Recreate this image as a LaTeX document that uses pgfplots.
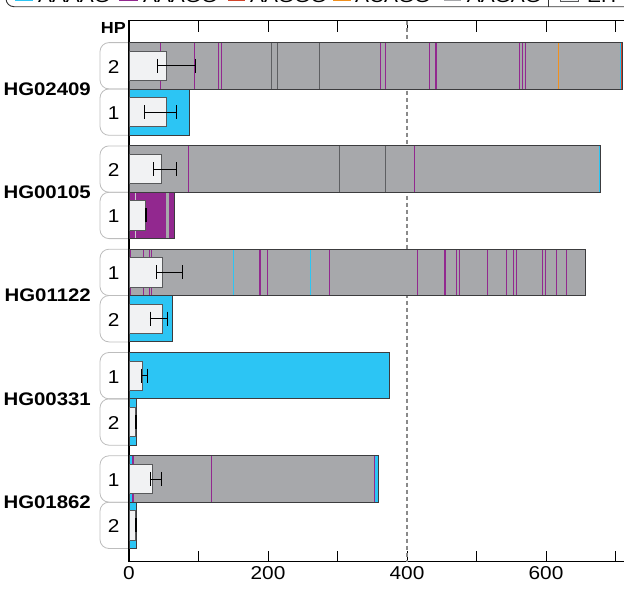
\documentclass[border=0pt]{standalone}
\usepackage{fontspec}
\setmainfont{Liberation Sans}[FakeStretch=1.12]
\usepackage{pgfplots}
\pgfplotsset{compat=1.18}
\definecolor{cCyan}{HTML}{2CC5F4}
\definecolor{cPurple}{HTML}{92288F}
\definecolor{cRed}{HTML}{D2452B}
\definecolor{cOrange}{HTML}{F0901E}
\definecolor{cGray}{HTML}{A7A8AB}
\definecolor{cDark}{HTML}{3C3C3E}
\definecolor{cSep}{HTML}{5E5F62}
\definecolor{cBox}{HTML}{F1F2F3}
\definecolor{cBoxLine}{HTML}{58595B}
\definecolor{cLbl}{HTML}{BDBDBD}
\definecolor{cLight}{HTML}{CACBCD}
\definecolor{cDash}{HTML}{8A8A8A}
% segment bar from 0 to #1 at centre #2 in colour #3
\newcommand{\seg}[3]{\addplot[xbar, bar shift=0pt, bar width=46.35, fill=#3, draw=none, forget plot] coordinates {(#1,#2)};}
% outline of a whole bar
\newcommand{\outl}[2]{\addplot[xbar, bar shift=0pt, bar width=46.35, fill=none, draw=cDark, line width=0.9pt, forget plot] coordinates {(#1,#2)};}
% stripe at x=#1 from y #2 to #3, colour #4, width #5
\newcommand{\st}[5]{\addplot[#4, line width=#5, forget plot] coordinates {(#1,#2) (#1,#3)};}
% EH box: value #1 at centre #2, interval #3..#4
\newcommand{\eh}[4]{\addplot[xbar, bar shift=0pt, bar width=29.5, fill=cBox, draw=cBoxLine, line width=0.8pt, forget plot] coordinates {(#1,#2)};
\addplot[black, line width=0.9pt, mark=|, mark size=7pt, mark options={solid, line width=0.9pt}, forget plot] coordinates {(#3,#2) (#4,#2)};}
\begin{document}
\begin{tikzpicture}
% HP label boxes
\begin{scope}[x=1pt,y=-1pt]
\foreach \a/\b in {42.6/88.95, 88.95/135.3, 145.9/192.25, 192.25/238.6, 249.2/295.55, 295.55/341.9, 352.5/398.85, 398.85/445.2, 455.8/502.15, 502.15/548.5}{
  \draw[cLbl, line width=0.8pt, rounded corners=9pt] (129,\a) -- (100,\a) -- (100,\b) -- (129,\b);
}
\end{scope}
\begin{axis}[
 at={(129pt,-561.7pt)}, anchor=south west,
 scale only axis, width=500.4pt, height=541pt,
 xmin=0, xmax=720, ymin=-561.7, ymax=-20.7,
 xtick={0,200,400,600}, minor xtick={100,300,500,700},
 ytick=\empty,
 xtick pos=both, tick align=inside,
 major tick length=11pt, minor tick length=11pt,
 tick style={black, line width=0.9pt},
 minor tick style={black, line width=0.9pt},
 axis line style={black, line width=1.1pt},
 xticklabel style={font=\fontsize{18.6}{20}\selectfont, yshift=-1.5pt},
 /pgf/number format/assume math mode=true,
 clip=false,
]
\addplot[cDash, line width=1.2pt, dash pattern=on 4pt off 3pt, forget plot] coordinates {(400,-20.7) (400,-561.7)};
% ---- HG02409 HP2 (R1)
\seg{710}{-65.78}{cRed}
\seg{707.5}{-65.78}{cCyan}
\seg{706.5}{-65.78}{cGray}
\seg{2}{-65.78}{cCyan}
\st{45.0}{-42.6}{-88.95}{cPurple}{1pt}
\st{94.5}{-42.6}{-88.95}{cPurple}{1pt}
\st{129.1}{-42.6}{-88.95}{cPurple}{1pt}
\st{132.4}{-42.6}{-88.95}{cPurple}{1pt}
\st{204.7}{-42.6}{-88.95}{cSep}{0.8pt}
\st{213.4}{-42.6}{-88.95}{cSep}{0.8pt}
\st{273.8}{-42.6}{-88.95}{cSep}{0.8pt}
\st{362.2}{-42.6}{-88.95}{cPurple}{1pt}
\st{368.8}{-42.6}{-88.95}{cPurple}{1pt}
\st{432.1}{-42.6}{-88.95}{cPurple}{1pt}
\st{441.3}{-42.6}{-88.95}{cPurple}{2pt}
\st{561.6}{-42.6}{-88.95}{cPurple}{1pt}
\st{566.5}{-42.6}{-88.95}{cPurple}{1pt}
\st{570.2}{-42.6}{-88.95}{cPurple}{1pt}
\st{617.7}{-42.6}{-88.95}{cOrange}{1.2pt}
\outl{710}{-65.78}
% ---- HG02409 HP1 (R2)
\seg{87.3}{-112.13}{cCyan}
\outl{87.3}{-112.13}
% ---- HG00105 HP2 (R3)
\seg{677.7}{-169.08}{cCyan}
\seg{676.5}{-169.08}{cGray}
\st{85.3}{-145.9}{-192.25}{cPurple}{1pt}
\st{302.6}{-145.9}{-192.25}{cSep}{0.8pt}
\st{368.8}{-145.9}{-192.25}{cSep}{0.8pt}
\st{410.5}{-145.9}{-192.25}{cPurple}{1pt}
\outl{677.7}{-169.08}
% ---- HG00105 HP1 (R4)
\seg{64.7}{-215.43}{cPurple}
\seg{57.6}{-215.43}{cGray}
\seg{53.2}{-215.43}{cPurple}
\st{9.1}{-192.25}{-238.6}{cLight}{0.8pt}
\outl{64.7}{-215.43}
% ---- HG01122 HP1 (R5)
\seg{657.1}{-272.38}{cGray}
\seg{3}{-272.38}{cPurple}
\st{20.6}{-249.2}{-295.55}{cPurple}{1pt}
\st{29.2}{-249.2}{-295.55}{cPurple}{1pt}
\st{31.7}{-249.2}{-295.55}{cPurple}{1pt}
\st{150.1}{-249.2}{-295.55}{cCyan}{0.7pt}
\st{188.5}{-249.2}{-295.55}{cPurple}{2pt}
\st{199}{-249.2}{-295.55}{cPurple}{1pt}
\st{261.4}{-249.2}{-295.55}{cCyan}{1pt}
\st{288.2}{-249.2}{-295.55}{cPurple}{1pt}
\st{414.8}{-249.2}{-295.55}{cPurple}{1pt}
\st{454.3}{-249.2}{-295.55}{cPurple}{2pt}
\st{471}{-249.2}{-295.55}{cPurple}{1pt}
\st{475.3}{-249.2}{-295.55}{cPurple}{1pt}
\st{515.5}{-249.2}{-295.55}{cPurple}{1pt}
\st{542.9}{-249.2}{-295.55}{cPurple}{1pt}
\st{553}{-249.2}{-295.55}{cPurple}{1pt}
\st{557.3}{-249.2}{-295.55}{cPurple}{1pt}
\st{594.7}{-249.2}{-295.55}{cPurple}{1pt}
\st{599}{-249.2}{-295.55}{cPurple}{1pt}
\st{614.8}{-249.2}{-295.55}{cPurple}{1pt}
\st{629.2}{-249.2}{-295.55}{cPurple}{1pt}
\outl{657.1}{-272.38}
% ---- HG01122 HP2 (R6)
\seg{61.9}{-318.73}{cCyan}
\outl{61.9}{-318.73}
% ---- HG00331 HP1 (R7)
\seg{374.5}{-375.68}{cCyan}
\outl{374.5}{-375.68}
% ---- HG00331 HP2 (R8)
\seg{11.1}{-422.03}{cCyan}
\outl{11.1}{-422.03}
% ---- HG01862 HP1 (R9)
\seg{358.7}{-478.98}{cCyan}
\seg{354.4}{-478.98}{cPurple}
\seg{352.5}{-478.98}{cGray}
\seg{6.8}{-478.98}{cPurple}
\seg{3.9}{-478.98}{cCyan}
\st{118.4}{-455.8}{-502.15}{cPurple}{1pt}
\outl{358.7}{-478.98}
% ---- HG01862 HP2 (R10)
\seg{11.1}{-525.33}{cCyan}
\outl{11.1}{-525.33}
% ---- EH boxes
\eh{54.2}{-65.78}{40.7}{95.4}
\eh{54.2}{-112.13}{22.0}{67.6}
\eh{47.0}{-169.08}{35.0}{67.6}
\eh{24.0}{-215.43}{23.3}{24.6}
\eh{47.9}{-272.38}{39.9}{76.7}
\eh{47.9}{-318.73}{30.2}{55.1}
\eh{19.7}{-375.68}{18.5}{25.9}
\eh{9.6}{-422.03}{9.2}{11.0}
\eh{33.5}{-478.98}{30.2}{46.5}
\eh{9.6}{-525.33}{9.2}{11.0}
\end{axis}
\begin{scope}[x=1pt,y=-1pt]
\node[anchor=base east, font=\bfseries\fontsize{16}{18}\selectfont, inner sep=0pt] at (126,33.3) {HP};
\foreach \n/\y in {HG02409/95.35, HG00105/198.65, HG01122/301.95, HG00331/405.25, HG01862/508.55}{
  \node[anchor=base east, font=\bfseries\fontsize{18.2}{20}\selectfont, inner sep=0pt] at (91,\y) {\n};
}
\foreach \h/\y in {2/65.78, 1/112.13, 2/169.08, 1/215.43, 1/272.38, 2/318.73, 1/375.68, 2/422.03, 1/478.98, 2/525.33}{
  \node[anchor=base, font=\fontsize{18.6}{20}\selectfont, inner sep=0pt] at (113.7,\y+7.5) {\h};
}
% legend (mostly cropped at the top)
\draw[black!80, line width=0.9pt, rounded corners=8pt] (6,-40) -- (6,6.7) -- (660,6.7) -- (660,-40);
\fill[cCyan] (15,-17) rectangle (33,1.2);
\fill[cPurple] (119,-17) rectangle (137.7,1.2);
\fill[cRed] (227.7,-17) rectangle (245,1.2);
\fill[cOrange] (333,-17) rectangle (351,1.2);
\fill[cGray] (443.7,-17) rectangle (461,1.2);
\draw[cBoxLine, fill=cBox, line width=0.8pt] (560,-17) rectangle (578,1.7);
\draw[black!80, line width=0.9pt] (548,-40) -- (548,6.7);
\foreach \x/\t in {38/AAAAG, 143/AAAGG, 250/AAGGG, 355/ACAGG, 466.7/AAGAG, 587/EH}{
  \node[anchor=base west, font=\fontsize{18.6}{20}\selectfont, inner sep=0pt] at (\x,2.7) {\t};
}
\end{scope}
\pgfresetboundingbox
\useasboundingbox (0pt,0pt) rectangle (624pt,-589pt);
\end{tikzpicture}
\end{document}
